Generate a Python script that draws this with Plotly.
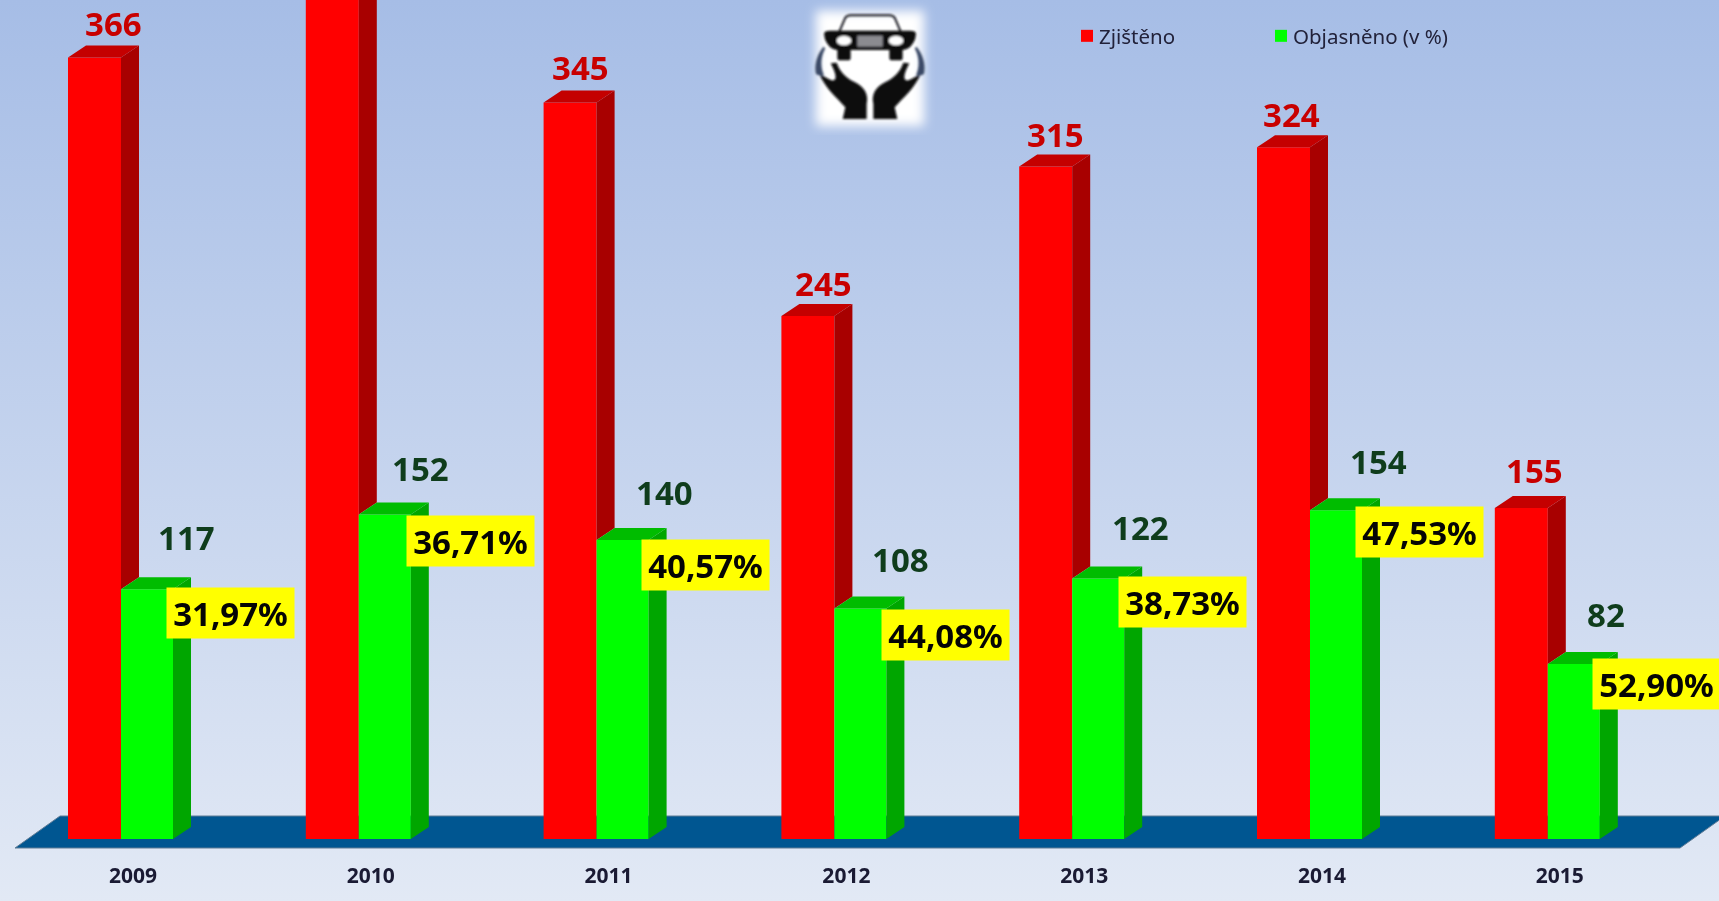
import base64
import plotly.graph_objects as go

years = ["2009", "2010", "2011", "2012", "2013", "2014", "2015"]
zjisteno = [366, 414, 345, 245, 315, 324, 155]
objasneno = [117, 152, 140, 108, 122, 154, 82]
procenta = ["31,97%", "36,71%", "40,57%", "44,08%", "38,73%", "47,53%", "52,90%"]

W, H = 1719, 901
STEP = 237.8          # px per category
K = 2.135             # px per unit
ORIGIN_X, BASE_Y = 121, 839
RED_W, GREEN_W = 53 / STEP, 52 / STEP
DX, DY = 18 / STEP, 12 / K
idx = list(range(len(years)))

# hand-placed label nudges (px), layout only
RED_LABEL_DX = [-8, -8, -16, -11, -17, -19, -13]
RED_LABEL_DY = [34, 35, 35, 32, 32, 33, 38]
GREEN_LABEL_DX = [65, 62, 68, 66, 68, 68, 58]
GREEN_LABEL_DY = [52, 46, 48, 49, 51, 49, 49]
PCT_DX = [109, 112, 109, 111, 110, 109, 109]
PCT_DY = [-24, -27, -25, -27, -23, -22, -20]


def svg_uri(svg):
    return "data:image/svg+xml;base64," + base64.b64encode(svg.encode()).decode()


bg_svg = f"""<svg xmlns='http://www.w3.org/2000/svg' width='{W}' height='{H}'>
<defs><linearGradient id='g' x1='0' y1='0' x2='0' y2='1'>
<stop offset='0' stop-color='#a6bde6'/><stop offset='1' stop-color='#e2e9f5'/>
</linearGradient></defs><rect width='{W}' height='{H}' fill='url(#g)'/></svg>"""

hand = """<g fill='#0b0b10'>
<path d='M92,190 L110,188 C120,215 135,232 165,247 C195,262 206,285 200,312 L200,357 L128,357 L136,322 C110,292 78,268 58,222 L92,240 C112,246 112,228 92,190 Z'/>
<path d='M70,140 C50,165 42,195 48,222 C56,226 62,228 72,226 C60,200 62,170 76,145 Z' fill='#3a4a66'/></g>"""
icon_svg = f"""<svg xmlns='http://www.w3.org/2000/svg' width='420' height='405' viewBox='0 0 420 405'>
<defs><filter id='b' x='-30%' y='-30%' width='160%' height='160%'><feGaussianBlur stdDeviation='16'/></filter>
<filter id='s'><feGaussianBlur stdDeviation='2.5'/></filter></defs>
<rect x='48' y='32' width='324' height='346' fill='white' filter='url(#b)'/>
<g filter='url(#s)'>
<path d='M118,95 L135,55 Q140,46 152,46 H268 Q280,46 285,55 L302,95' fill='none' stroke='#15151c' stroke-width='6'/>
<path d='M72,102 Q72,92 90,92 H330 Q348,92 348,102 L345,118 Q335,146 310,150 H110 Q85,146 75,118 Z' fill='#0b0b10'/>
<rect x='112' y='145' width='40' height='36' rx='8' fill='#0b0b10'/>
<rect x='268' y='145' width='40' height='36' rx='8' fill='#0b0b10'/>
<ellipse cx='132' cy='122' rx='22' ry='14' fill='white'/>
<ellipse cx='288' cy='122' rx='22' ry='14' fill='white'/>
<rect x='172' y='107' width='76' height='33' fill='#8b8b90'/>
{hand}
<g transform='translate(420,0) scale(-1,1)'>{hand}</g>
</g></svg>"""

fig = go.Figure()


def polys(points):
    xs, ys = [], []
    for poly in points:
        xs += [p[0] for p in poly] + [poly[0][0], None]
        ys += [p[1] for p in poly] + [poly[0][1], None]
    return xs, ys


def add_poly(points, color):
    xs, ys = polys(points)
    fig.add_trace(go.Scatter(x=xs, y=ys, mode="lines", fill="toself", fillcolor=color,
                             line=dict(width=0, color=color), hoverinfo="skip", showlegend=False))


fig.add_trace(go.Bar(name="Zjištěno", x=idx, y=zjisteno, width=RED_W, offset=-RED_W,
                     marker=dict(color="#ff0000", line=dict(width=0))))
fig.add_trace(go.Bar(name="Objasněno (v %)", x=idx, y=objasneno, width=GREEN_W, offset=0,
                     marker=dict(color="#00ff00", line=dict(width=0))))

# depth faces of the 3D columns, derived from the same values
add_poly([[(i, g), (i, v), (i + DX, v + DY), (i + DX, g + DY)]
          for i, v, g in zip(idx, zjisteno, objasneno)], "#a80000")
add_poly([[(i - RED_W, v), (i, v), (i + DX, v + DY), (i - RED_W + DX, v + DY)]
          for i, v in zip(idx, zjisteno)], "#c40000")
add_poly([[(i + GREEN_W, 0), (i + GREEN_W, v), (i + GREEN_W + DX, v + DY), (i + GREEN_W + DX, DY)]
          for i, v in zip(idx, objasneno)], "#00a600")
add_poly([[(i, v), (i + GREEN_W, v), (i + GREEN_W + DX, v + DY), (i + DX, v + DY)]
          for i, v in zip(idx, objasneno)], "#00bc00")

annotations = []
for i, v, g, p in zip(idx, zjisteno, objasneno, procenta):
    if v * K < BASE_Y:
        annotations.append(dict(x=i, y=v, xref="x", yref="y", text=f"<b>{v}</b>", showarrow=False,
                                xshift=RED_LABEL_DX[i], yshift=RED_LABEL_DY[i],
                                font=dict(family="Noto Sans", size=33, color="#c80000")))
    annotations.append(dict(x=i, y=g, xref="x", yref="y", text=f"<b>{g}</b>", showarrow=False,
                            xshift=GREEN_LABEL_DX[i], yshift=GREEN_LABEL_DY[i],
                            font=dict(family="Noto Sans", size=33, color="#0f3d1c")))
    annotations.append(dict(x=i, y=g, xref="x", yref="y", text=f"<b>{p}</b>", showarrow=False,
                            xshift=PCT_DX[i], yshift=PCT_DY[i], width=125, height=48,
                            align="center", valign="middle", bgcolor="#ffff00",
                            font=dict(family="Noto Sans", size=33, color="#050505")))

fig.update_layout(
    width=W, height=H, margin=dict(l=0, r=0, t=0, b=0, pad=0), autosize=False,
    paper_bgcolor="#e2e9f5", plot_bgcolor="rgba(0,0,0,0)",
    barmode="overlay", annotations=annotations,
    font=dict(family="Noto Sans"),
    xaxis=dict(range=[-ORIGIN_X / STEP, (W - ORIGIN_X) / STEP], tickmode="array",
               tickvals=[i + 12 / STEP for i in idx], ticktext=[f"<b>{y}</b>" for y in years],
               tickfont=dict(family="Noto Sans", size=21, color="#1a1a33"),
               showgrid=False, zeroline=False, showline=False, ticks="",
               anchor="free", position=(H - 861) / H, domain=[0, 1]),
    yaxis=dict(range=[(BASE_Y - H) / K, BASE_Y / K], visible=False, domain=[0, 1],
               showgrid=False, zeroline=False),
    legend=dict(orientation="h", x=1067 / W, y=1 - 16 / H, xanchor="left", yanchor="top",
                bgcolor="rgba(0,0,0,0)", entrywidth=149, entrywidthmode="pixels",
                font=dict(family="Noto Sans", size=20.5, color="#22223a"), traceorder="normal"),
    images=[
        dict(source=svg_uri(bg_svg), xref="paper", yref="paper", x=0, y=1, sizex=1, sizey=1,
             xanchor="left", yanchor="top", sizing="stretch", layer="below"),
        dict(source=svg_uri(icon_svg), xref="paper", yref="paper", x=800 / W, y=1,
             sizex=140 / W, sizey=135 / H, xanchor="left", yanchor="top", sizing="stretch", layer="above"),
    ],
    shapes=[dict(type="path", xref="paper", yref="paper", layer="below",
                 path=f"M{15/W},{1-848/H} L{60/W},{1-816/H} L{1725/W},{1-816/H} L{1680/W},{1-848/H} Z",
                 fillcolor="#005691", line=dict(color="#5f7c96", width=1))],
)

# Full-bleed page, legend labels closer to swatches, and the reference's slight softness.
post = """
document.documentElement.style.margin='0';
document.body.style.margin='0';
document.body.style.background='#c5d3ec';
var gd=document.getElementById('{plot_id}');
gd.style.filter='blur(0.6px)';
function tightLegend(){gd.querySelectorAll('.legendtext').forEach(function(t){t.setAttribute('x','32');});}
tightLegend();
if(gd.on){gd.on('plotly_afterplot',tightLegend);}
setTimeout(tightLegend,100);
"""

fig.write_html("out.html", config=dict(displayModeBar=False), post_script=post)
